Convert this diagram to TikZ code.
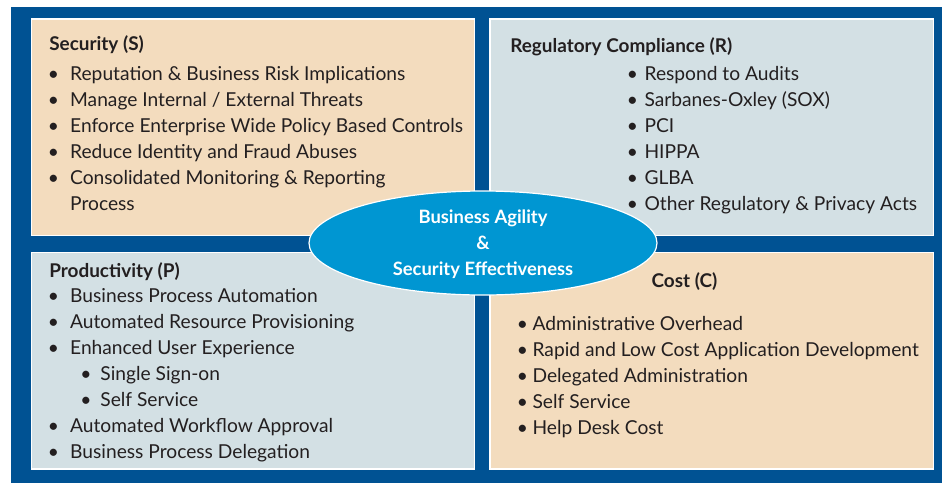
\documentclass[tikz,border=0pt]{standalone}
\usepackage{fontspec}
\setmainfont{Lato}
\usetikzlibrary{shapes.geometric}

\definecolor{frameblue}{RGB}{0,82,147}
\definecolor{peach}{RGB}{243,220,190}
\definecolor{greyblue}{RGB}{211,224,228}
\definecolor{capblue}{RGB}{0,150,210}
\definecolor{ink}{RGB}{35,31,32}

% bullet in a box of given width, then the item text
\newcommand{\bul}[1][16.8pt]{\makebox[#1][l]{\textbullet}}
\newcommand{\subbul}{\hspace{24.5pt}\makebox[15pt][l]{\textbullet}}

\begin{document}
\begin{tikzpicture}[x=0.75pt,y=0.75pt,yscale=-1,xscale=1,
    panel/.style={draw=white,line width=0.9pt},
    heading/.style={anchor=base west,inner sep=0pt,text=ink,font=\bfseries\fontsize{14.2}{17}\selectfont},
    items/.style={anchor=north west,inner sep=0pt,align=left,text=ink,font=\fontsize{14.4}{19.5}\selectfont}]
    \useasboundingbox (0,0) rectangle (942,483);

    %Shape: Rectangle (frame)
    \fill[frameblue] (11,7) rectangle (942,483);
    %Shape: Rectangle (S)
    \draw[panel,fill=peach] (31.5,19) rectangle (474.5,235.5);
    %Shape: Rectangle (R)
    \draw[panel,fill=greyblue] (490,19) rectangle (933.5,235.5);
    %Shape: Rectangle (P)
    \draw[panel,fill=greyblue] (31.5,252.5) rectangle (474.5,469);
    %Shape: Rectangle (C)
    \draw[panel,fill=peach] (490,252.5) rectangle (933.5,469);

    % Text Node
    \node[heading] (sechead) at (49,50) {Security (S)};
    % Text Node
    \node[items] (secitems) at (47.5,66) {\bul Reputation \& Business Risk Implications\\
      \bul Manage Internal / External Threats\\
      \bul Enforce Enterprise Wide Policy Based Controls\\
      \bul Reduce Identity and Fraud Abuses\\
      \bul Consolidated Monitoring \& Reporting\\
      \hspace{16.8pt}Process};

    % Text Node
    \node[heading] (reghead) at (510,52) {Regulatory Compliance (R)};
    % Text Node
    \node[items] (regitems) at (626.7,66) {\bul[13.2pt]Respond to Audits\\
      \bul[13.2pt]Sarbanes-Oxley (SOX)\\
      \bul[13.2pt]PCI\\
      \bul[13.2pt]HIPPA\\
      \bul[13.2pt]GLBA\\
      \bul[13.2pt]Other Regulatory \& Privacy Acts};

    % Text Node
    \node[heading] (prodhead) at (49,277) {Productivity (P)};
    % Text Node
    \node[items] (proditems) at (47.5,288) {\bul Business Process Automation\\
      \bul Automated Resource Provisioning\\
      \bul Enhanced User Experience\\
      \subbul Single Sign-on\\
      \subbul Self Service\\
      \bul Automated Workflow Approval\\
      \bul Business Process Delegation};

    % Text Node
    \node[heading,anchor=base] (costhead) at (684.5,287) {Cost (C)};
    % Text Node
    \node[items] (costitems) at (516.7,316) {\bul[11.7pt]Administrative Overhead\\
      \bul[11.7pt]Rapid and Low Cost Application Development\\
      \bul[11.7pt]Delegated Administration\\
      \bul[11.7pt]Self Service\\
      \bul[11.7pt]Help Desk Cost};

    %Shape: Ellipse
    \node[ellipse,draw=white,line width=0.9pt,fill=capblue,minimum width=261pt,minimum height=78pt,
      inner sep=0pt] (agility) at (483,243) {};
    % Text Node
    \node[inner sep=0pt,align=center,text=white,font=\bfseries\fontsize{13.8}{19.5}\selectfont]
      (agilitytext) at (483,244.5) {Business Agility\\ \&\\ Security Effectiveness};

\end{tikzpicture}
\end{document}
